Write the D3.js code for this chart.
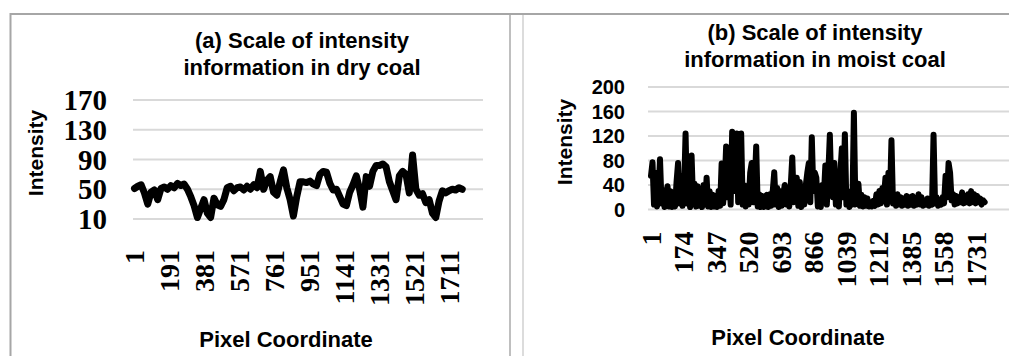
<!DOCTYPE html>
<html>
<head>
<meta charset="utf-8">
<script src="https://cdn.jsdelivr.net/npm/d3@7"></script>
<style>
  body { margin: 0; background: #fff; }
  svg { display: block; }
</style>
</head>
<body>
<svg id="chart" width="1009" height="356"></svg>
<script>
const dryStep = 18;
const dryCoal = [
  51, 54, 56, 45, 30, 46, 49, 36, 51, 53,
  50, 55, 52, 58, 55, 57, 50, 40, 28, 12,
  24, 36, 18, 12, 38, 29, 27, 36, 52, 54,
  48, 52, 53, 49, 54, 50, 56, 52, 74, 50,
  62, 67, 46, 42, 60, 76, 52, 36, 14, 40,
  60, 60, 59, 61, 57, 55, 70, 74, 73, 58,
  49, 50, 40, 30, 28, 46, 56, 68, 50, 26,
  67, 54, 74, 82, 82, 84, 80, 60, 48, 36,
  68, 74, 70, 45, 96, 50, 42, 44, 32, 36,
  18, 12, 34, 48, 45, 48, 50, 49, 52, 50
];

const moistStep = 8;
const moistCoal = [
  55, 77, 8, 60, 5, 30, 82, 10, 28, 4,
  28, 38, 5, 30, 4, 25, 5, 45, 76, 10,
  55, 6, 30, 124, 10, 40, 4, 88, 12, 42,
  5, 38, 6, 25, 4, 40, 8, 52, 5, 30,
  4, 24, 5, 22, 4, 30, 6, 75, 10, 40,
  103, 20, 60, 8, 127, 30, 80, 124, 12, 50,
  124, 8, 40, 5, 30, 8, 60, 76, 12, 40,
  103, 5, 25, 4, 22, 4, 20, 24, 4, 25,
  6, 30, 61, 8, 35, 4, 30, 6, 25, 40,
  8, 30, 5, 40, 85, 12, 30, 52, 6, 45,
  4, 30, 8, 40, 60, 76, 12, 118, 30, 60,
  52, 5, 30, 4, 40, 20, 72, 8, 60, 122,
  30, 20, 76, 8, 40, 5, 60, 100, 20, 123,
  8, 30, 4, 24, 8, 158, 8, 22, 42, 6,
  24, 5, 20, 6, 18, 5, 12, 5, 14, 6,
  25, 8, 30, 10, 35, 20, 52, 8, 60, 20,
  113, 10, 25, 6, 25, 8, 20, 6, 18, 8,
  22, 6, 20, 8, 22, 6, 18, 8, 25, 8,
  20, 6, 15, 8, 18, 6, 15, 8, 122, 10,
  20, 6, 15, 8, 20, 10, 55, 20, 76, 60,
  15, 25, 8, 22, 10, 20, 12, 28, 10, 22,
  12, 25, 10, 30, 12, 25, 10, 22, 12, 18,
  8, 15, 12
];

const dryXTicks = [1, 191, 381, 571, 761, 951, 1141, 1331, 1521, 1711];
const dryYTicks = [10, 50, 90, 130, 170];
const moistXTicks = [1, 174, 347, 520, 693, 866, 1039, 1212, 1385, 1558, 1731];
const moistYTicks = [0, 40, 80, 120, 160, 200];

const svg = d3.select('#chart');
const sans = 'Arial, "Liberation Sans", sans-serif';
const serif = '"Times New Roman", "Liberation Serif", serif';

// frame
svg.append('line').attr('x1', 10).attr('x2', 1009).attr('y1', 14).attr('y2', 14)
  .attr('stroke', '#a6a6a6').attr('stroke-width', 2);
svg.append('line').attr('x1', 10.5).attr('x2', 10.5).attr('y1', 13).attr('y2', 356)
  .attr('stroke', '#a6a6a6').attr('stroke-width', 2);
svg.append('line').attr('x1', 510).attr('x2', 510).attr('y1', 15).attr('y2', 356)
  .attr('stroke', '#bfbfbf').attr('stroke-width', 2);
svg.append('line').attr('x1', 523).attr('x2', 523).attr('y1', 15).attr('y2', 356)
  .attr('stroke', '#dcdcdc').attr('stroke-width', 2);

function panel(cfg) {
  const g = svg.append('g');
  const x = d3.scaleLinear().domain([cfg.xTicks[0], cfg.xTicks[cfg.xTicks.length - 1]]).range(cfg.xRange);
  const y = d3.scaleLinear().domain(d3.extent(cfg.yTicks)).range(cfg.yRange);

  // gridlines
  g.selectAll('line.grid')
    .data(cfg.yTicks)
    .enter()
    .append('line')
      .attr('class', 'grid')
      .attr('x1', cfg.gridX[0]).attr('x2', cfg.gridX[1])
      .attr('y1', d => y(d)).attr('y2', d => y(d))
      .attr('stroke', '#d9d9d9')
      .attr('stroke-width', 2);

  // y tick labels
  g.selectAll('text.ytick')
    .data(cfg.yTicks)
    .enter()
    .append('text')
      .attr('class', 'ytick')
      .attr('x', cfg.yLabelX)
      .attr('y', d => y(d))
      .attr('text-anchor', 'end')
      .attr('dominant-baseline', 'central')
      .attr('font-family', cfg.yFont)
      .attr('font-size', cfg.yFontSize)
      .attr('font-weight', 'bold')
      .text(d => d);

  // x tick labels, rotated
  g.selectAll('text.xtick')
    .data(cfg.xTicks)
    .enter()
    .append('text')
      .attr('class', 'xtick')
      .attr('transform', d => `translate(${x(d)},${cfg.xLabelY}) rotate(-90)`)
      .attr('text-anchor', 'end')
      .attr('dominant-baseline', 'central')
      .attr('font-family', serif)
      .attr('font-size', 28)
      .attr('font-weight', 'bold')
      .text(d => d);

  // series
  const line = d3.line()
    .x((d, i) => x(1 + i * cfg.step))
    .y(d => y(d));

  g.append('path')
    .datum(cfg.values)
    .attr('d', line)
    .attr('fill', 'none')
    .attr('stroke', '#000')
    .attr('stroke-width', cfg.lineWidth)
    .attr('stroke-linejoin', 'round')
    .attr('stroke-linecap', 'round');

  // titles
  const title = g.append('text')
    .attr('text-anchor', 'middle')
    .attr('font-family', sans)
    .attr('font-size', 22)
    .attr('font-weight', 'bold');
  cfg.title.forEach((t, i) => {
    title.append('tspan').attr('x', cfg.titleX).attr('y', cfg.titleY[i]).text(t);
  });

  g.append('text')
    .attr('transform', `translate(${cfg.yTitle[0]},${cfg.yTitle[1]}) rotate(-90)`)
    .attr('text-anchor', 'middle')
    .attr('font-family', sans)
    .attr('font-size', 21)
    .attr('font-weight', 'bold')
    .text('Intensity');

  g.append('text')
    .attr('x', cfg.xTitle[0])
    .attr('y', cfg.xTitle[1])
    .attr('text-anchor', 'middle')
    .attr('font-family', sans)
    .attr('font-size', 22)
    .attr('font-weight', 'bold')
    .text('Pixel Coordinate');
}

panel({
  values: dryCoal, step: dryStep, lineWidth: 7,
  xTicks: dryXTicks, yTicks: dryYTicks,
  xRange: [134.5, 449], yRange: [219, 100],
  gridX: [133, 483],
  yLabelX: 107, yFont: serif, yFontSize: 29,
  xLabelY: 250,
  title: ['(a) Scale of intensity', 'information in dry coal'],
  titleX: 302, titleY: [48, 74.5],
  yTitle: [43, 153], xTitle: [286, 346.5]
});

panel({
  values: moistCoal, step: moistStep, lineWidth: 6,
  xTicks: moistXTicks, yTicks: moistYTicks,
  xRange: [651, 976], yRange: [209.5, 87],
  gridX: [648, 1009],
  yLabelX: 625, yFont: sans, yFontSize: 20,
  xLabelY: 231.5,
  title: ['(b) Scale of intensity', 'information in moist coal'],
  titleX: 815, titleY: [39.5, 66.5],
  yTitle: [572, 142], xTitle: [798, 345]
});
</script>
</body>
</html>
